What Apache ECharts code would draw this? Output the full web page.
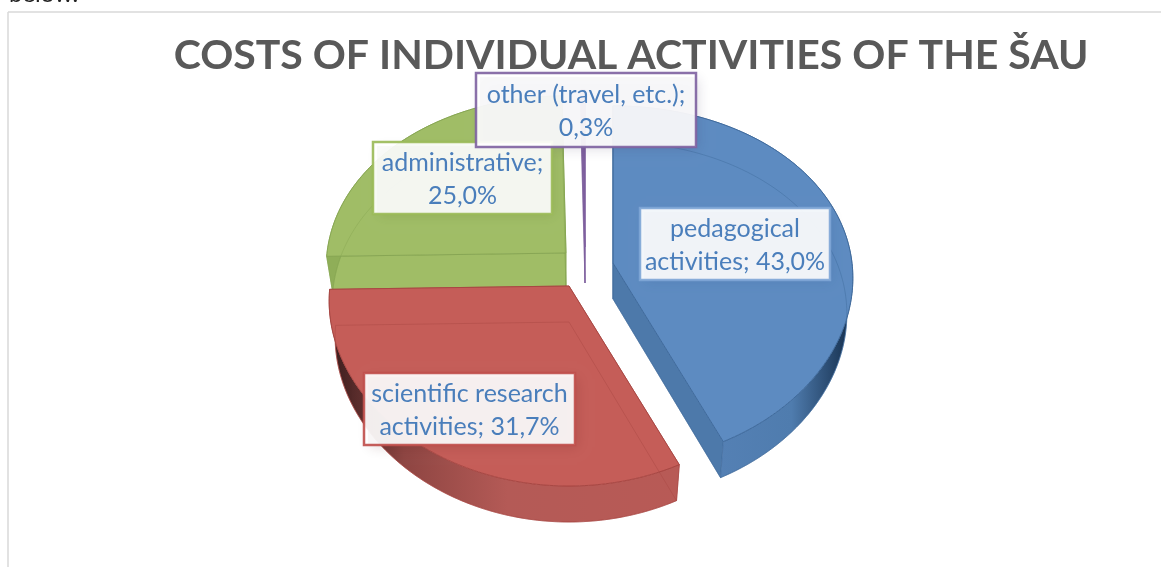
<!DOCTYPE html>
<html>
<head>
<meta charset="utf-8">
<style>
  html, body { margin: 0; padding: 0; background: #fff; }
  #main { width: 1161px; height: 567px; }
</style>
<script src="https://cdn.jsdelivr.net/npm/echarts@6/dist/echarts.min.js"></script>
</head>
<body>
<div id="main"></div>
<script>
// data
var categories = ['pedagogical\nactivities', 'scientific research\nactivities', 'administrative', 'other (travel, etc.)'];
var shares = [43.0, 31.7, 25.0, 0.3];
var chartTitle = 'COSTS OF INDIVIDUAL ACTIVITIES OF THE ŠAU';

// look of each slice, same order as categories
var sliceStyles = [
    { cx: 613, cy: 263, top: '#5d8bc1', line: '#3f6a9c', cut: '#4d79aa', z: 2, wall: [[0, '#5480b4'], [0.55, '#4f7cae'], [1, '#16304f']], wallFrom: 720, wallTo: 850 },
    { cx: 569, cy: 286, top: '#c55d58', line: '#a84743', cut: '#b85652', z: 3, wall: [[0, '#3f1f1f'], [0.2, '#8e4542'], [0.5, '#b45a56'], [1, '#b85a56']], wallFrom: 335, wallTo: 680 },
    { cx: 566, cy: 253, top: '#a0bd66', line: '#87a653', cut: '#a0bd66', z: 1, wall: [[0, '#8fae58'], [1, '#8fae58']], wallFrom: 325, wallTo: 566 },
    { cx: 585, cy: 247, top: '#7e5f9e', line: '#7e5f9e', cut: '#6a4f88', z: 1, wall: [[0, '#6a4f88'], [1, '#6a4f88']], wallFrom: 580, wallTo: 590 }
];
// label boxes, same order as categories
var labelBoxes = [
    { x: 640, y: 208, w: 190, h: 72, border: '#7fa6d6', shadow: 'rgba(30,60,110,0.35)' },
    { x: 364, y: 373, w: 211, h: 72, border: '#c0504d', shadow: 'rgba(70,20,20,0.4)' },
    { x: 373, y: 142, w: 179, h: 72, border: '#9bbb59', shadow: 'rgba(50,70,20,0.35)' },
    { x: 476, y: 73, w: 220, h: 74, border: '#8064a2', shadow: 'rgba(50,40,80,0.4)' }
];

var radiusX = 239;
var radiusY = 176;
var perspective = 0.12;
var depth = 36;
var bottomShrink = 0.975;
var labelColor = '#4a7ebb';
var textFont = 'Lato, "Noto Sans", sans-serif';

function labelText(i) {
    var pct = shares[i].toFixed(1).replace('.', ',') + '%';
    return categories[i].indexOf('\n') >= 0 ? categories[i] + '; ' + pct : categories[i] + ';\n' + pct;
}

// angle is clockwise from 12 o'clock
function topPoint(s, angle) {
    var x = Math.sin(angle);
    var y = -Math.cos(angle);
    var p = 1 / (1 - perspective * y);
    return [s.cx + radiusX * x * Math.pow(p, 0.7), s.cy + radiusY * y * p];
}

function bottomPoint(s, angle) {
    var t = topPoint(s, angle);
    return [s.cx + (t[0] - s.cx) * bottomShrink, t[1] + depth];
}

function arcPoints(fn, s, a0, a1) {
    var pts = [];
    var n = Math.max(2, Math.ceil((a1 - a0) * 60));
    for (var i = 0; i <= n; i++) {
        pts.push(fn(s, a0 + (a1 - a0) * i / n));
    }
    return pts;
}

function renderSlice(params, api) {
    var i = params.dataIndex;
    var s = sliceStyles[i];
    var before = 0;
    for (var k = 0; k < i; k++) before += shares[k];
    var a0 = before / 100 * Math.PI * 2;
    var a1 = (before + api.value(0)) / 100 * Math.PI * 2;

    var topArc = arcPoints(topPoint, s, a0, a1);
    var bottomArc = arcPoints(bottomPoint, s, a0, a1);
    var apexTop = [s.cx, s.cy];
    var apexBottom = [s.cx, s.cy + depth];
    var z = s.z * 10;

    var wallFill = new echarts.graphic.LinearGradient(s.wallFrom, 0, s.wallTo, 0, s.wall.map(function (c) {
        return { offset: c[0], color: c[1] };
    }), true);

    var children = [
        // cut faces
        { type: 'polygon', z2: z, shape: { points: [apexTop, topArc[0], bottomArc[0], apexBottom] }, style: { fill: s.cut, stroke: s.line, lineWidth: 0.6 } },
        { type: 'polygon', z2: z, shape: { points: [apexTop, topArc[topArc.length - 1], bottomArc[bottomArc.length - 1], apexBottom] }, style: { fill: s.cut, stroke: s.line, lineWidth: 0.6 } },
        // outer wall
        { type: 'polygon', z2: z + 1, shape: { points: topArc.concat(bottomArc.slice().reverse()) }, style: { fill: wallFill, stroke: s.line, lineWidth: 0.6 } },
        // top face
        { type: 'polygon', z2: z + 2, shape: { points: [apexTop].concat(topArc) }, style: { fill: s.top, stroke: s.line, lineWidth: 1 } },
        // bottom outline shows through the slice
        { type: 'polyline', z2: z + 3, shape: { points: [apexBottom].concat(bottomArc, [apexBottom]) }, style: { fill: 'none', stroke: s.line, lineWidth: 1, opacity: 0.45 } }
    ];

    var b = labelBoxes[i];
    // shadow goes on its own rect so it does not fall inside the box
    children.push({
        type: 'rect', z2: 99,
        shape: { x: b.x + 4, y: b.y + 4, width: b.w - 4, height: b.h - 4 },
        style: { fill: b.shadow, shadowBlur: 12, shadowColor: b.shadow, shadowOffsetX: 2, shadowOffsetY: 2 }
    });
    children.push({
        type: 'rect', z2: 100,
        shape: { x: b.x, y: b.y, width: b.w, height: b.h },
        style: { fill: '#fff', opacity: 0.92, stroke: b.border, lineWidth: 2.5 }
    });
    children.push({
        type: 'text', z2: 101,
        style: {
            x: b.x + b.w / 2, y: b.y + b.h / 2 + 1,
            text: labelText(i),
            fill: labelColor,
            font: '25px ' + textFont,
            lineHeight: 33,
            align: 'center',
            verticalAlign: 'middle'
        }
    });
    return { type: 'group', children: children };
}

var myChart = echarts.init(document.getElementById('main'));
myChart.setOption({
    animation: false,
    title: {
        text: chartTitle,
        left: 626,
        textAlign: 'center',
        top: 30,
        textStyle: { color: '#595959', fontSize: 41, fontWeight: 'bold', fontFamily: textFont }
    },
    graphic: [
        { type: 'text', left: 9, top: -18, style: { text: 'below.', fill: '#222', font: '24px ' + textFont } },
        { type: 'line', shape: { x1: 8, y1: 12, x2: 1161, y2: 12 }, style: { stroke: '#d9d9d9', lineWidth: 1.5 } },
        { type: 'line', shape: { x1: 8, y1: 12, x2: 8, y2: 567 }, style: { stroke: '#d9d9d9', lineWidth: 1.5 } }
    ],
    series: [{
        type: 'custom',
        coordinateSystem: 'none',
        renderItem: renderSlice,
        data: shares.map(function (v, i) { return { name: categories[i], value: v }; })
    }]
});
</script>
</body>
</html>
